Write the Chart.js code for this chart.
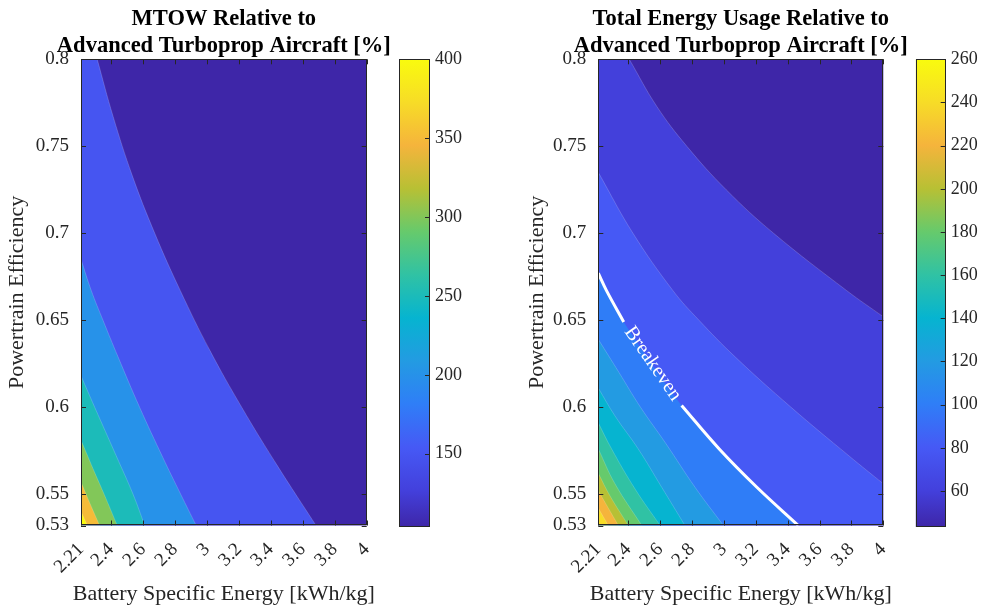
<!DOCTYPE html>
<html>
<head>
<meta charset="utf-8">
<script src="https://cdn.jsdelivr.net/npm/chart.js@4"></script>
<style>
  body { margin: 0; background: #fff; width: 984px; height: 612px; position: relative; overflow: hidden; }
  canvas { position: absolute; top: 0; }
</style>
</head>
<body>
<canvas id="mtow" width="448" height="612" style="left:0px"></canvas>
<canvas id="mtowBar" width="90" height="612" style="left:390px"></canvas>
<canvas id="energy" width="442" height="612" style="left:520px"></canvas>
<canvas id="energyBar" width="78" height="612" style="left:906px"></canvas>
<script>
// axis limits and ticks (shared by both panels)
const xMin = 2.2125, xMax = 4, yMin = 0.532, yMax = 0.8;
const xTickValues = [2.2125, 2.4, 2.6, 2.8, 3, 3.2, 3.4, 3.6, 3.8, 4];
const xTickLabels = ['2.21', '2.4', '2.6', '2.8', '3', '3.2', '3.4', '3.6', '3.8', '4'];
const yTickValues = [0.532, 0.55, 0.6, 0.65, 0.7, 0.75, 0.8];
const yTickLabels = ['0.53', '0.55', '0.6', '0.65', '0.7', '0.75', '0.8'];

// MTOW contour levels, each curve = [battery specific energy, powertrain efficiency]
const mtowLevels = [150, 200, 250, 300, 350, 400];
const mtowC150 = [[2.314, 0.8], [2.414, 0.767], [2.534, 0.733], [2.674, 0.700], [2.834, 0.667], [3.017, 0.633], [3.218, 0.600], [3.437, 0.567], [3.683, 0.532]];
const mtowC200 = [[2.2125, 0.685], [2.277, 0.667], [2.350, 0.650], [2.444, 0.629], [2.579, 0.600], [2.725, 0.571], [2.836, 0.550], [2.933, 0.532]];
const mtowC250 = [[2.2125, 0.618], [2.298, 0.600], [2.433, 0.572], [2.538, 0.550], [2.611, 0.532]];
const mtowC300 = [[2.2125, 0.581], [2.300, 0.562], [2.357, 0.550], [2.439, 0.532]];
const mtowC350 = [[2.2125, 0.557], [2.267, 0.545], [2.329, 0.532]];
const mtowC400 = [[2.2125, 0.540], [2.252, 0.532]];
const mtowColorRange = [103.5, 400];
const mtowColorTicks = [150, 200, 250, 300, 350, 400];

// Energy contour levels
const energyLevels = [60, 80, 100, 120, 140, 160, 180, 200, 220, 240];
const energyC60 = [[2.407, 0.8], [2.579, 0.773], [2.768, 0.750], [3.015, 0.725], [3.312, 0.700], [3.771, 0.667], [4.0, 0.652]];
const energyC80 = [[2.2125, 0.735], [2.430, 0.700], [2.681, 0.667], [2.844, 0.650], [3.070, 0.629], [3.421, 0.600], [3.785, 0.572], [4.0, 0.556]];
const breakevenUpper = [[2.2125, 0.677], [2.264, 0.667], [2.372, 0.649]];
const breakevenLower = [[2.735, 0.601], [2.971, 0.576], [3.207, 0.554], [3.467, 0.532]];
const energyC120 = [[2.2125, 0.639], [2.342, 0.620], [2.477, 0.600], [2.637, 0.579], [2.819, 0.554], [2.997, 0.532]];
const energyC140 = [[2.2125, 0.611], [2.317, 0.595], [2.463, 0.576], [2.610, 0.554], [2.756, 0.532]];
const energyC160 = [[2.2125, 0.591], [2.296, 0.576], [2.443, 0.553], [2.600, 0.532]];
const energyC180 = [[2.2125, 0.576], [2.317, 0.556], [2.485, 0.532]];
const energyC200 = [[2.2125, 0.562], [2.286, 0.549], [2.401, 0.532]];
const energyC220 = [[2.2125, 0.552], [2.338, 0.532]];
const energyC240 = [[2.2125, 0.542], [2.275, 0.532]];
const energyColorRange = [43.3, 260];
const energyColorTicks = [60, 80, 100, 120, 140, 160, 180, 200, 220, 240, 260];
const breakevenLevel = 100;

const serif = "'Liberation Serif', 'Times New Roman', serif";
const ink = '#262626';

// parula-like colormap
const parulaStops = [
  [0.000, '#3E26A8'], [0.078, '#4340DC'], [0.170, '#4659F5'], [0.263, '#2F7EF7'],
  [0.355, '#239BE2'], [0.447, '#06B4D0'], [0.539, '#30C2A4'], [0.631, '#66CA6C'],
  [0.724, '#B8C034'], [0.816, '#F5B43C'], [0.908, '#F7DC27'], [1.000, '#F9FB0E']
];

function hexRgb(h) {
  return [1, 3, 5].map(i => parseInt(h.slice(i, i + 2), 16));
}

function parula(t) {
  t = Math.min(1, Math.max(0, t));
  for (let i = 1; i < parulaStops.length; i++) {
    const [t1, c1] = parulaStops[i];
    if (t <= t1) {
      const [t0, c0] = parulaStops[i - 1];
      const f = (t - t0) / (t1 - t0);
      const a = hexRgb(c0), b = hexRgb(c1);
      const m = a.map((v, k) => Math.round(v + (b[k] - v) * f));
      return `rgb(${m[0]}, ${m[1]}, ${m[2]})`;
    }
  }
  return parulaStops[parulaStops.length - 1][1];
}

Chart.defaults.font.family = serif;
Chart.defaults.color = ink;

// box + inward tick marks, like matlab axes; also titles centred on the plot box
const axisBox = {
  id: 'axisBox',
  beforeDatasetsDraw(chart, args, opts) {
    if (!opts.background) return;
    const { ctx, chartArea: a } = chart;
    ctx.save();
    ctx.fillStyle = opts.background;
    ctx.fillRect(a.left, a.top, a.width, a.height);
    ctx.restore();
  },
  afterDraw(chart, args, opts) {
    const { ctx, chartArea: a } = chart;
    const len = 5;
    const cx = (a.left + a.right) / 2;
    ctx.save();
    ctx.strokeStyle = ink;
    ctx.lineWidth = 1;
    ctx.beginPath();
    Object.values(chart.scales).forEach(s => {
      if (!s.options.display) return;
      s.ticks.forEach(t => {
        const p = Math.round(s.getPixelForValue(t.value)) + 0.5;
        if (s.axis === 'x') {
          ctx.moveTo(p, a.bottom); ctx.lineTo(p, a.bottom - len);
          ctx.moveTo(p, a.top); ctx.lineTo(p, a.top + len);
        } else {
          if (!opts.rightOnly) { ctx.moveTo(a.left, p); ctx.lineTo(a.left + len, p); }
          ctx.moveTo(a.right, p); ctx.lineTo(a.right - len, p);
        }
      });
    });
    ctx.stroke();
    ctx.strokeRect(Math.round(a.left) + 0.5, Math.round(a.top) + 0.5,
      Math.round(a.width) - 1, Math.round(a.height) - 1);
    ctx.textAlign = 'center';
    if (opts.xTitle) {
      ctx.fillStyle = ink;
      ctx.font = `22px ${serif}`;
      ctx.textBaseline = 'middle';
      ctx.fillText(opts.xTitle, cx, chart.height - 18);
    }
    if (opts.title) {
      ctx.fillStyle = '#000';
      ctx.font = `bold 22.5px ${serif}`;
      ctx.textBaseline = 'alphabetic';
      opts.title.forEach((line, i) => ctx.fillText(line, cx, 25 + i * 26.7));
    }
    ctx.restore();
  }
};

// inline "Breakeven" label placed in the gap of the white line
const breakevenLabel = {
  id: 'breakevenLabel',
  afterDatasetsDraw(chart, args, opts) {
    if (!opts.text) return;
    const { ctx, scales: { x, y } } = chart;
    const a = breakevenUpper[breakevenUpper.length - 1];
    const b = breakevenLower[0];
    const ax = x.getPixelForValue(a[0]), ay = y.getPixelForValue(a[1]);
    const bx = x.getPixelForValue(b[0]), by = y.getPixelForValue(b[1]);
    ctx.save();
    ctx.translate((ax + bx) / 2, (ay + by) / 2);
    ctx.rotate(Math.atan2(by - ay, bx - ax));
    ctx.fillStyle = '#fff';
    ctx.font = `20px ${serif}`;
    ctx.textAlign = 'center';
    ctx.textBaseline = 'middle';
    ctx.fillText(opts.text, 0, 0);
    ctx.restore();
  }
};

function toPoints(curve) {
  const pts = curve.map(([x, y]) => ({ x, y }));
  if (pts[0].y >= yMax) {
    // run along the top edge to the left axis so the fill covers the corner
    const eps = (xMax - xMin) * 1e-4;
    pts.unshift({ x: xMin, y: yMax }, { x: pts[0].x - eps, y: yMax });
  }
  return pts;
}

function regionDatasets(levels, curves, range, skipLineLevel) {
  return levels.map((lv, i) => ({
    data: toPoints(curves[i]),
    showLine: true,
    fill: 'start',
    backgroundColor: parula((lv - range[0]) / (range[1] - range[0])),
    borderColor: 'rgba(255,255,255,0.3)',
    borderWidth: lv === skipLineLevel ? 0 : 0.6,
    pointRadius: 0,
    tension: 0.4,
    order: levels.length - i + 1
  }));
}

function whiteLine(curve) {
  return {
    data: toPoints(curve),
    showLine: true,
    fill: false,
    borderColor: '#fff',
    borderWidth: 3,
    pointRadius: 0,
    tension: 0.4,
    order: 0
  };
}

function contourChart(id, titleLines, datasets, yAxisWidth, padRight, labelText) {
  return new Chart(document.getElementById(id), {
    type: 'scatter',
    data: { datasets },
    options: {
      responsive: false,
      animation: false,
      devicePixelRatio: 1,
      layout: { padding: { left: 0, right: padRight, top: 59.3, bottom: 0 } },
      plugins: {
        legend: { display: false },
        tooltip: { enabled: false },
        title: { display: false },
        axisBox: { background: parula(0), xTitle: 'Battery Specific Energy [kWh/kg]', title: titleLines },
        breakevenLabel: { text: labelText }
      },
      scales: {
        x: {
          type: 'linear', min: xMin, max: xMax,
          grid: { display: false, drawTicks: false }, border: { display: false },
          afterBuildTicks: s => { s.ticks = xTickValues.map(v => ({ value: v })); },
          afterFit: s => { s.height = 86.5; },
          ticks: {
            autoSkip: false, minRotation: 45, maxRotation: 45, padding: 13, color: ink,
            font: { size: 19 }, callback: (v, i) => xTickLabels[i]
          }
        },
        y: {
          type: 'linear', min: yMin, max: yMax,
          grid: { display: false, drawTicks: false }, border: { display: false },
          afterBuildTicks: s => { s.ticks = yTickValues.map(v => ({ value: v })); },
          afterFit: s => { s.width = yAxisWidth; },
          ticks: { autoSkip: false, padding: 12, color: ink, font: { size: 19 }, callback: (v, i) => yTickLabels[i] },
          title: {
            display: true, text: 'Powertrain Efficiency', color: ink,
            font: { size: 22, lineHeight: 1.2 }, padding: { top: 4, bottom: 0 }
          }
        }
      }
    },
    plugins: [axisBox, breakevenLabel]
  });
}

function colorbarChart(id, range, ticks, padLeft, axisWidth) {
  return new Chart(document.getElementById(id), {
    type: 'bar',
    data: {
      labels: [''],
      datasets: [{
        data: [range],
        barPercentage: 1,
        categoryPercentage: 1,
        borderWidth: 0,
        backgroundColor: ctx => {
          const a = ctx.chart.chartArea;
          if (!a) return parula(0);
          const g = ctx.chart.ctx.createLinearGradient(0, a.bottom, 0, a.top);
          parulaStops.forEach(([t, c]) => g.addColorStop(t, c));
          return g;
        }
      }]
    },
    options: {
      responsive: false,
      animation: false,
      devicePixelRatio: 1,
      layout: { padding: { left: padLeft, right: 0, top: 59.3, bottom: 85 } },
      plugins: { legend: { display: false }, tooltip: { enabled: false }, axisBox: { rightOnly: true } },
      scales: {
        x: { display: false },
        y: {
          position: 'right', min: range[0], max: range[1],
          grid: { display: false, drawTicks: false }, border: { display: false },
          afterBuildTicks: s => { s.ticks = ticks.map(v => ({ value: v })); },
          afterFit: s => { s.width = axisWidth; },
          ticks: { padding: 5, color: ink, font: { size: 18 } }
        }
      }
    },
    plugins: [axisBox]
  });
}

const mtowCurves = [mtowC150, mtowC200, mtowC250, mtowC300, mtowC350, mtowC400];
const energyCurves = [energyC60, energyC80, breakevenUpper.concat(breakevenLower), energyC120,
  energyC140, energyC160, energyC180, energyC200, energyC220, energyC240];

contourChart('mtow', ['MTOW Relative to', 'Advanced Turboprop Aircraft [%]'],
  regionDatasets(mtowLevels, mtowCurves, mtowColorRange, null), 81, 81.3, '');

contourChart('energy', ['Total Energy Usage Relative to', 'Advanced Turboprop Aircraft [%]'],
  regionDatasets(energyLevels, energyCurves, energyColorRange, breakevenLevel)
    .concat([whiteLine(breakevenUpper), whiteLine(breakevenLower)]), 78.3, 78.7, 'Breakeven');

colorbarChart('mtowBar', mtowColorRange, mtowColorTicks, 9.3, 50);
colorbarChart('energyBar', energyColorRange, energyColorTicks, 9.7, 38.3);
</script>
</body>
</html>
